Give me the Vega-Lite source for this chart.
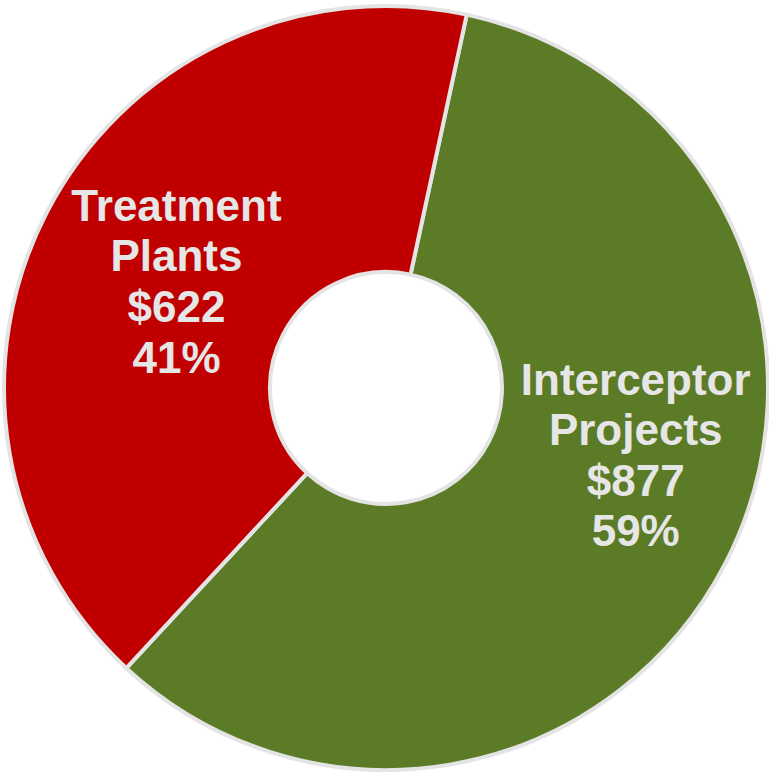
{
  "$schema": "https://vega.github.io/schema/vega-lite/v6.json",
  "width": 769,
  "height": 772,
  "autosize": {"type": "fit", "contains": "padding"},
  "padding": {"left": 3, "top": 4, "right": 0, "bottom": 0},
  "background": "white",
  "config": {"view": {"stroke": null}},
  "data": {
    "values": [
      {"category": "Interceptor Projects", "value": 877, "lines": ["Interceptor", "Projects", "$877", "59%"]},
      {"category": "Treatment Plants", "value": 622, "lines": ["Treatment", "Plants", "$622", "41%"]}
    ]
  },
  "encoding": {
    "theta": {"field": "value", "type": "quantitative", "stack": true, "scale": {"range": [0.213, 6.4962]}}
  },
  "layer": [
    {
      "mark": {"type": "arc", "radius": 382, "radius2": 116, "stroke": "#e4e4e4", "strokeWidth": 4},
      "encoding": {
        "color": {
          "field": "category",
          "type": "nominal",
          "scale": {"domain": ["Interceptor Projects", "Treatment Plants"], "range": ["#5B7B27", "#C00000"]},
          "legend": null
        }
      }
    },
    {
      "mark": {"type": "text", "radius": 234, "dx": -2, "dy": -72, "font": "Liberation Sans", "fontWeight": "bold", "fontSize": 44, "lineHeight": 50.6, "fill": "#E6E6E6", "align": "center", "baseline": "middle"},
      "encoding": {
        "text": {"field": "lines", "condition": {"test": "datum.category !== 'Treatment Plants'", "value": ""}}
      }
    },
    {
      "mark": {"type": "text", "radius": 259, "dx": 20, "dy": -126, "font": "Liberation Sans", "fontWeight": "bold", "fontSize": 44, "lineHeight": 50.6, "fill": "#E6E6E6", "align": "center", "baseline": "middle"},
      "encoding": {
        "text": {"field": "lines", "condition": {"test": "datum.category !== 'Interceptor Projects'", "value": ""}}
      }
    }
  ]
}
